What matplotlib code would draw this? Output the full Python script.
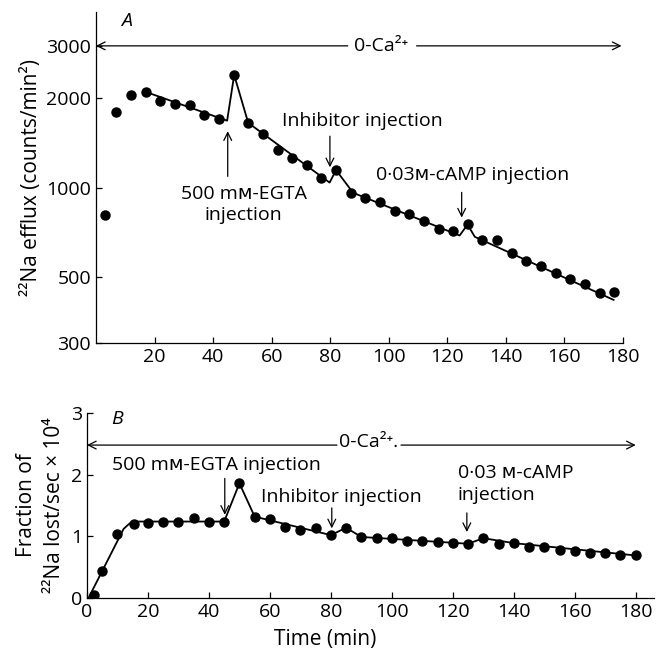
import matplotlib
matplotlib.use("Agg")
import matplotlib.pyplot as plt

plt.rcParams.update({
    "font.family": ["Open Sans", "DejaVu Sans"],
    "font.size": 14,
    "axes.spines.top": False,
    "axes.spines.right": False,
    "axes.linewidth": 0.9,
    "xtick.direction": "in",
    "ytick.direction": "in",
    "xtick.major.size": 4,
    "ytick.major.size": 4,
    "xtick.major.width": 0.9,
    "ytick.major.width": 0.9,
    "xtick.labelsize": 14,
    "ytick.labelsize": 14,
})

# panel A: 22Na efflux (counts/min^2), log scale
a_time = [3, 7, 12, 17, 22, 27, 32, 37, 42, 47, 52, 57, 62, 67, 72, 77, 82, 87,
          92, 97, 102, 107, 112, 117, 122, 127, 132, 137, 142, 147, 152, 157,
          162, 167, 172, 177]
a_efflux = [808, 1800, 2050, 2094, 1962, 1906, 1896, 1758, 1696, 2394, 1652,
            1515, 1343, 1255, 1195, 1080, 1146, 961, 921, 893, 833, 816, 773,
            727, 713, 757, 669, 665, 603, 568, 543, 516, 492, 474, 441, 444]
# fitted line drawn through panel A
a_fit_time = [17, 44.8, 47.2, 52, 79.8, 82, 87.8, 124.2, 126.9, 129.4, 176.8]
a_fit_efflux = [2100, 1680, 2394, 1652, 1040, 1146, 961, 690, 751, 683, 419]

# panel B: fraction of 22Na lost/sec x 10^4
b_time = [2.3, 5, 10, 15.5, 20, 25, 30, 35, 40, 45, 50, 55, 60, 65, 70, 75, 80,
          85, 90, 95, 100, 105, 110, 115, 120, 125, 130, 135, 140, 145, 150,
          155, 160, 165, 170, 175, 180]
b_frac = [0.05, 0.44, 1.04, 1.20, 1.21, 1.24, 1.24, 1.30, 1.24, 1.24, 1.86,
          1.32, 1.28, 1.15, 1.11, 1.13, 1.02, 1.14, 0.99, 0.97, 0.97, 0.92,
          0.93, 0.91, 0.89, 0.88, 0.97, 0.87, 0.90, 0.82, 0.82, 0.78, 0.76,
          0.73, 0.73, 0.69, 0.69]
b_fit_time = [0.5, 12, 14, 17, 45, 50, 55, 80, 85, 90, 125, 130, 140, 180]
b_fit_frac = [0.0, 1.12, 1.21, 1.24, 1.24, 1.86, 1.32, 1.02, 1.14, 0.99,
              0.88, 0.97, 0.89, 0.69]

a_yticks = [300, 500, 1000, 2000, 3000]
a_xticks = [20, 40, 60, 80, 100, 120, 140, 160, 180]
b_xticks = [0, 20, 40, 60, 80, 100, 120, 140, 160, 180]
b_yticks = [0, 1, 2, 3]

ARW = dict(arrowstyle="->", color="black", lw=0.9, shrinkA=0, shrinkB=0)

fig = plt.figure(figsize=(6.56, 6.56), dpi=100)
axA = fig.add_axes([0.1463, 0.4771, 0.8034, 0.5046])
axB = fig.add_axes([0.1326, 0.0884, 0.8644, 0.2820])

# ---- panel A ----
axA.plot(a_fit_time, a_fit_efflux, color="black", lw=1.3, zorder=2)
axA.plot(a_time, a_efflux, "o", color="black", ms=6.5, zorder=3)
axA.set_yscale("log")
axA.set_xlim(0, 180)
axA.set_ylim(300, 3900)
axA.set_yticks(a_yticks)
axA.set_yticklabels([str(v) for v in a_yticks])
axA.yaxis.set_minor_locator(matplotlib.ticker.NullLocator())
axA.set_xticks(a_xticks)
axA.set_ylabel("²²Na efflux (counts/min²)", fontsize=15, labelpad=3)
axA.text(10.5, 3650, "A", style="italic", fontsize=14, ha="center", va="center")

axA.annotate("", xy=(0, 3000), xytext=(86, 3000), arrowprops=ARW)
axA.annotate("", xy=(179.5, 3000), xytext=(109.5, 3000), arrowprops=ARW)
axA.text(97.5, 3000, "0-Ca²⁺", ha="center", va="center", fontsize=14)

axA.annotate("", xy=(45, 1548), xytext=(45, 1091), arrowprops=ARW)
axA.text(50.5, 878, "500 mᴍ-EGTA\ninjection", ha="center", va="center",
         fontsize=14, linespacing=1.25)
axA.annotate("", xy=(79.9, 1171), xytext=(79.9, 1490), arrowprops=ARW)
axA.text(91.1, 1674, "Inhibitor injection", ha="center", va="center", fontsize=14)
axA.annotate("", xy=(124.9, 793), xytext=(124.9, 964), arrowprops=ARW)
axA.text(128.7, 1100, "0·03ᴍ-cAMP injection", ha="center", va="center", fontsize=14)

# ---- panel B ----
axB.plot(b_fit_time, b_fit_frac, color="black", lw=1.3, zorder=2)
axB.plot(b_time, b_frac, "o", color="black", ms=6.5, zorder=3)
axB.set_xlim(0, 186)
axB.set_ylim(0, 3)
axB.set_xticks(b_xticks)
axB.set_yticks(b_yticks)
axB.set_xlabel("Time (min)", fontsize=15)
axB.xaxis.set_label_coords(0.42, -0.17)
axB.set_ylabel("Fraction of\n²²Na lost/sec × 10⁴", fontsize=15, labelpad=4,
               linespacing=1.45)
axB.text(9.8, 2.9, "B", style="italic", fontsize=14, ha="center", va="center")

axB.annotate("", xy=(0, 2.48), xytext=(82, 2.48), arrowprops=ARW)
axB.annotate("", xy=(180, 2.48), xytext=(103, 2.48), arrowprops=ARW)
axB.text(92.5, 2.53, "0-Ca²⁺.", ha="center", va="center", fontsize=14)

axB.text(42.6, 2.16, "500 mᴍ-EGTA injection", ha="center", va="center", fontsize=14)
axB.annotate("", xy=(45.2, 1.35), xytext=(45.2, 1.94), arrowprops=ARW)
axB.text(83.6, 1.64, "Inhibitor injection", ha="center", va="center", fontsize=14)
axB.annotate("", xy=(80.3, 1.13), xytext=(80.3, 1.46), arrowprops=ARW)
axB.text(121.6, 1.85, "0·03 ᴍ-cAMP\ninjection", ha="left", va="center",
         fontsize=14, linespacing=1.3)
axB.annotate("", xy=(124.6, 1.07), xytext=(124.6, 1.38), arrowprops=ARW)

fig.savefig("out.png", dpi=100)
